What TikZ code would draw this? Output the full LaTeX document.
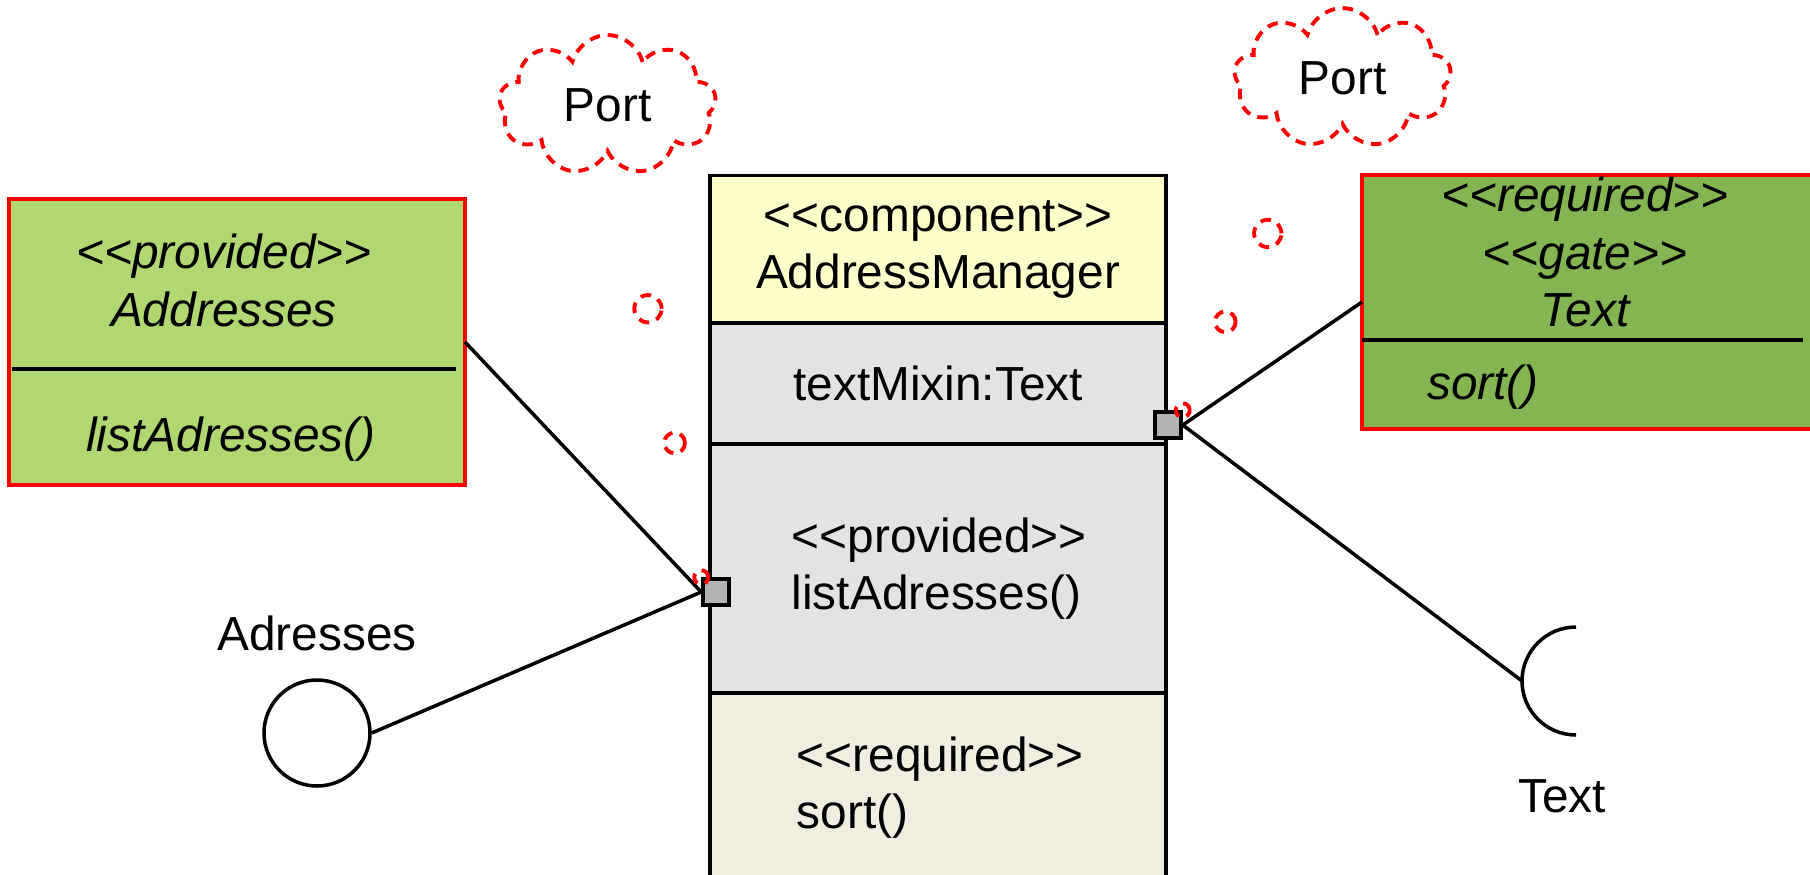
\documentclass[tikz,border=0pt]{standalone}
\usepackage{fontspec}
\setmainfont{Liberation Sans}
\usetikzlibrary{positioning,shapes.symbols,shapes.callouts}

\definecolor{provgreen}{RGB}{176,215,114}
\definecolor{reqgreen}{RGB}{132,181,82}
\definecolor{headyellow}{RGB}{255,255,204}
\definecolor{partgray}{RGB}{227,227,227}
\definecolor{partbeige}{RGB}{240,237,225}
\definecolor{portgray}{RGB}{179,179,179}

% stereotype brackets, kept apart from the << >> ligature
\newcommand{\stereo}[1]{<\kern0pt<#1>\kern0pt>}

\begin{document}
\begin{tikzpicture}[
    umlfont/.style={font=\fontsize{13.6}{16.3}\selectfont},
    txt/.style={umlfont, align=center, inner sep=0pt},
    itxt/.style={txt, font=\fontsize{13.6}{16.3}\selectfont\itshape},
    iface/.style={
        rectangle, draw=red, line width=1.2pt, outer sep=0pt,
        minimum width=4.56cm, minimum height=2.86cm
    },
    compart/.style={
        rectangle, draw=black, line width=1pt, outer sep=0pt,
        minimum width=4.56cm, inner sep=0pt, umlfont, align=center
    },
    port/.style={
        rectangle, draw=black, line width=1pt, fill=portgray,
        minimum size=0.26cm, inner sep=0pt
    },
    ball/.style={circle, draw=black, line width=1pt, minimum size=1.06cm, inner sep=0pt},
    wire/.style={line width=1pt, draw=black},
    divider/.style={line width=1.2pt, draw=black},
    note/.style={
        cloud callout, cloud puffs=9, cloud ignores aspect,
        draw=red, line width=1.1pt, dash pattern=on 3pt off 2.2pt,
        minimum width=2.17cm, minimum height=1.4cm,
        callout pointer segments=3,
        callout pointer start size=0.72cm and 0.34cm,
        callout pointer end size=0.22cm and 0.14cm,
        umlfont
    },
]

\path[use as bounding box, fill=white] (0,0) rectangle (18.10,8.74);

% ── Component with its compartments ─────────────────────────
\node[compart, fill=headyellow, minimum height=1.475cm] (compHead) at (9.38,6.248)
    {\stereo{component}\\AddressManager};
\node[compart, fill=partgray, minimum height=1.21cm, below=0pt of compHead] (compMixin)
    {textMixin:Text};
\node[compart, fill=partgray, minimum height=2.49cm, below=0pt of compMixin] (compProv) {};
\node[compart, fill=partbeige, minimum height=1.95cm, below=0pt of compProv] (compReq) {};

\node[txt, align=left, anchor=west] (provOp) at ([xshift=0.81cm]compProv.west)
    {\stereo{provided}\\listAdresses()};
\node[txt, align=left, anchor=west] (reqOp) at ([xshift=0.86cm, yshift=0.03cm]compReq.west)
    {\stereo{required}\\sort()};

% ── Ports ────────────────────────────────────────────────────
\node[port] (portL) at (7.16,2.82) {};
\node[port] (portR) at (11.68,4.49) {};

% ── Provided interface (left) ────────────────────────────────
\node[iface, fill=provgreen] (provA) at (2.37,5.32) {};
\node[itxt] (provAName) at (2.24,5.935) {\stereo{provided}\\Addresses};
\node[itxt] (provAOp) at (2.31,4.35) {listAdresses()};
\draw[divider] (0.12,5.05) -- (4.56,5.05);

\node[ball] (ballA) at (3.17,1.41) {};
\node[txt] (ballALabel) at (3.17,2.41) {Adresses};

% ── Required interface (right) ───────────────────────────────
\node[iface, fill=reqgreen, minimum width=4.6cm, minimum height=2.54cm] (reqT) at (15.92,5.72) {};
\node[itxt] (reqTName) at (15.85,6.22) {\stereo{required}\\\stereo{gate}\\Text};
\node[itxt] (reqTOp) at (14.83,4.87) {sort()};
\draw[divider] (13.62,5.34) -- (18.03,5.34);

\coordinate (sockT) at (15.22,1.93);
\node[txt] (sockTLabel) at (15.62,0.78) {Text};

% ── Connectors ───────────────────────────────────────────────
\draw[wire] (provA.east) -- (portL.west);
\draw[wire] (portL.west) -- (ballA.east);
\draw[wire] (portR.east) -- (reqT.west);
\draw[wire] (portR.east) -- (sockT);
\draw[wire] (sockT) ++(0.54,0.54) arc[start angle=90, end angle=270, radius=0.54cm];

% ── Port notes ───────────────────────────────────────────────
\node[note, callout absolute pointer={(portL.north west)}] (noteL) at (6.075,7.69) {Port};
\node[note, callout absolute pointer={(portR.north east)}] (noteR) at (13.425,7.96) {Port};

\end{tikzpicture}
\end{document}
